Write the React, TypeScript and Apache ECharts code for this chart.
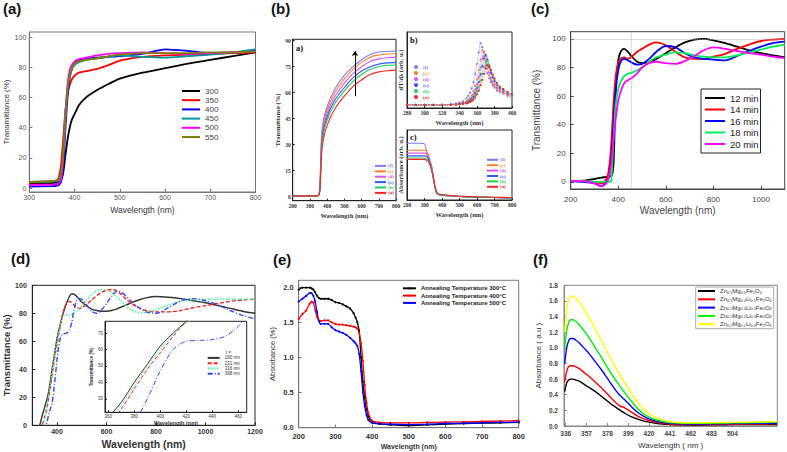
import React, { useEffect, useRef } from "react";
import * as echarts from "echarts";

// ---------- (a) ----------
const A_X = [300, 350, 360, 365, 370, 375, 380, 385, 390, 395, 400, 410, 425, 450, 475, 500, 550, 600, 650, 700, 750, 800];
const A_NAMES = ["300", "350", "400", "450", "500", "550"];
const A_300 = [3, 3.3, 3.5, 4, 5, 10, 22, 33, 41, 46, 49, 55, 60, 65, 69, 72.5, 76.5, 79.5, 82.5, 85, 87.5, 90];
const A_350 = [3.5, 4.5, 5, 7, 15, 33, 52, 63, 69, 72.5, 74.5, 76.5, 77.5, 79, 81.5, 84.5, 87, 88, 88.5, 89, 89.5, 90];
const A_400 = [1, 1.3, 1.5, 2, 4, 14, 40, 62, 74, 80, 83, 85, 86, 86.5, 87, 87.5, 89, 92, 91, 89.5, 90, 91];
const A_450 = [4, 4.3, 4.5, 5, 8, 22, 48, 66, 75, 79, 81.5, 83.5, 85, 86, 87, 88, 87, 86.5, 87.5, 88.5, 90, 92];
const A_500 = [2, 2.3, 2.5, 3, 6, 20, 50, 70, 79, 82, 84, 85.5, 86.5, 88, 89, 89.5, 90, 89.5, 89, 89.5, 90, 90.5];
const A_550 = [4, 4.5, 5, 6, 10, 25, 50, 67, 76, 80, 82.5, 84, 85, 86, 87.5, 88.5, 89.5, 89.5, 89.5, 90, 90, 90.5];
const A_COLORS = ["#000000", "#ff0000", "#0000ff", "#009999", "#ff00ff", "#808000"];
const A_TICKS_X = [300, 400, 500, 600, 700, 800];
const A_TICKS_Y = [0, 20, 40, 60, 80, 100];

// ---------- (b) ----------
const B_LABELS = ["(f)", "(e)", "(d)", "(c)", "(b)", "(a)"];
const B_COLORS = ["#7b7bff", "#ff7f27", "#e055e0", "#3355ff", "#22cc55", "#ff2222"];
const B1_X = [200, 340, 350, 355, 360, 365, 370, 375, 380, 390, 400, 420, 450, 500, 550, 600, 650, 700, 750, 800];
const B1_F = [0.5, 0.5, 1, 3, 12, 30, 38, 42, 45, 49, 52, 57, 63, 70, 75, 79, 82, 83.5, 83.8, 84];
const B1_E = [0.5, 0.5, 1, 2.5, 10, 27, 36, 40, 43, 47, 50, 55, 61, 68, 73.5, 77.5, 80.5, 81.8, 82.3, 82.5];
const B1_D = [0.5, 0.5, 1, 2, 9, 25, 34, 38, 41, 45, 48, 53, 58.5, 65.5, 71, 75, 78, 79.5, 80.2, 80.5];
const B1_C = [0.5, 0.5, 0.8, 2, 8, 23, 32, 36, 39, 43, 46, 51, 56.5, 63, 68.5, 72.5, 75, 76.5, 77.2, 77.5];
const B1_B = [0.5, 0.5, 0.8, 1.5, 7, 21, 30, 34, 37, 41, 44, 49, 54.5, 61, 66.5, 70.5, 73.5, 75, 75.8, 76];
const B1_A = [0.5, 0.5, 0.8, 1.5, 6, 18, 27, 31, 34, 38, 41, 46, 51.5, 58, 63.5, 67.5, 70.5, 72, 72.7, 73];
const B1_TICKS_X = [200, 300, 400, 500, 600, 700, 800];
const B1_TICKS_Y = [0, 15, 30, 45, 60, 75, 90];
const B1_ARROW = [[562, 58], [562, 84]];

const B2_X = [280, 290, 300, 310, 320, 330, 336, 340, 344, 348, 350, 352, 354, 356, 358, 360, 362, 364, 366, 368, 370, 372, 374, 376, 378, 380, 383, 386, 390, 395, 400];
const B2_F = [.04, .04, .04, .04, .045, .05, .06, .07, .09, .13, .16, .2, .26, .34, .45, .58, .73, .855, .8, .68, .56, .46, .39, .34, .3, .27, .23, .21, .19, .16, .14];
const B2_E = [.04, .04, .04, .04, .04, .045, .05, .06, .07, .09, .11, .13, .17, .22, .29, .38, .5, .63, .76, .74, .63, .52, .43, .37, .32, .29, .25, .22, .2, .17, .15];
const B2_D = [.04, .04, .04, .04, .04, .045, .05, .055, .065, .08, .09, .11, .14, .18, .24, .31, .41, .53, .65, .74, .68, .57, .47, .4, .35, .31, .27, .24, .21, .18, .16];
const B2_C = [.04, .04, .04, .04, .04, .045, .05, .055, .06, .07, .08, .1, .12, .15, .2, .26, .34, .44, .55, .65, .7, .64, .54, .46, .4, .35, .3, .26, .23, .19, .17];
const B2_B = [.04, .04, .04, .04, .04, .04, .045, .05, .055, .065, .075, .085, .1, .13, .17, .22, .28, .36, .45, .54, .6, .62, .57, .49, .42, .37, .31, .27, .24, .2, .17];
const B2_A = [.04, .04, .04, .04, .04, .04, .045, .05, .055, .06, .07, .08, .09, .11, .14, .18, .23, .3, .37, .45, .52, .56, .55, .5, .44, .39, .33, .28, .25, .21, .18];
const B2_TICKS_X = [280, 300, 320, 340, 360, 380, 400];

const B3_X = [200, 280, 300, 310, 320, 330, 340, 350, 360, 370, 380, 400, 450, 500, 600, 700, 800];
const B3_F = [.81, .81, .8, .72, .6, .55, .5, .35, .18, .1, .08, .07, .06, .05, .04, .035, .03];
const B3_E = [.71, .71, .71, .7, .66, .58, .48, .34, .18, .1, .08, .07, .06, .05, .04, .035, .03];
const B3_D = [.67, .67, .67, .66, .63, .56, .46, .33, .18, .1, .08, .07, .06, .05, .04, .035, .03];
const B3_C = [.63, .63, .63, .62, .6, .54, .45, .32, .18, .1, .08, .07, .06, .05, .04, .035, .03];
const B3_B = [.6, .6, .6, .59, .57, .52, .44, .32, .18, .1, .08, .07, .06, .05, .04, .035, .03];
const B3_A = [.58, .58, .58, .57, .55, .51, .43, .32, .19, .11, .09, .075, .065, .055, .045, .04, .035];

// ---------- (c) ----------
const C_X = [200, 250, 300, 330, 350, 360, 370, 380, 390, 400, 410, 425, 440, 460, 480, 500, 530, 560, 600, 640, 680, 720, 760, 800, 850, 900, 950, 1000, 1050, 1100];
const C_NAMES = ["12 min", "14 min", "16 min", "18 min", "20 min"];
const C_12 = [0.5, 0.8, 2, 3, 3.5, 4, 4, 12, 68, 85, 91, 93, 91, 87, 84, 83, 83.5, 86, 90, 94, 97.5, 99.5, 100, 99, 97, 94.5, 92, 90, 88.5, 87];
const C_14 = [0.5, 0.5, 0, -1, 2, 8, 25, 55, 75, 83, 86, 87, 86, 88, 91, 93, 96, 97.5, 95.5, 91, 87, 86, 86, 87.5, 89.5, 93, 96, 98.5, 99.5, 100];
const C_16 = [0.5, 0, -1, -3, 0, 3, 15, 40, 65, 78, 84, 86, 85, 83, 82, 82.5, 86, 91, 95, 94, 90, 87, 86, 85.5, 85, 88, 91.5, 94.5, 97, 98];
const C_18 = [0.5, 0.5, 0, 0, 0, 0, 0.5, 30, 55, 65, 70, 74, 75.5, 76.5, 78, 80, 84, 87, 89, 90.5, 90, 88.5, 87.5, 87, 87, 88.5, 90.5, 92.5, 94.5, 96];
const C_20 = [0.5, 0.5, -1, -3, -1, 3, 12, 30, 45, 57, 63, 69, 71, 73, 76, 80, 83, 84, 83, 82.5, 84.5, 88, 92, 94, 93, 91.5, 90, 89, 87.5, 86.5];
const C_COLORS = ["#000000", "#ff0000", "#0000ff", "#00ee55", "#ff00ff"];
const C_TICKS_X = [200, 400, 600, 800, 1000];
const C_TICKS_Y = [0, 20, 40, 60, 80, 100];
const C_REF_X = 456;
const C_REF_Y = 100;

// ---------- (d) ----------
const D_X = [300, 330, 340, 350, 360, 370, 380, 390, 400, 410, 420, 430, 440, 450, 460, 470, 480, 490, 500, 520, 540, 560, 580, 600, 620, 640, 660, 680, 700, 730, 760, 800, 850, 900, 950, 1000, 1050, 1100, 1150, 1200];
const D_NAMES = ["160 nm", "231 nm", "316 nm", "398 nm"];
const D_160 = [-15, 0, 7, 13, 19, 28, 40, 51, 62, 70, 77, 83, 88, 92, 94, 93.5, 92, 90, 88, 85, 83, 82, 81.5, 81.5, 82, 83, 84.5, 86, 87.5, 89.5, 91, 92, 91.5, 90.5, 89, 87.5, 85.5, 83.5, 81.5, 80];
const D_231 = [-15, -6, 0, 6, 13, 24, 36, 48, 58, 68, 77, 84, 87.5, 88.5, 87.5, 85.5, 84, 83.5, 84, 86.5, 89.5, 92.5, 95, 96.5, 97, 96, 93.5, 90, 87, 84, 82, 81, 81, 82, 84, 85.5, 87, 88.5, 89.5, 90];
const D_316 = [-15, -5, -2, 5, 15, 26, 38, 50, 60, 69, 76, 79, 79, 78.5, 79, 80, 81.5, 83, 85, 89.5, 93.5, 96, 97, 96.5, 95, 92, 88.5, 85, 82.5, 80.5, 80.5, 82.5, 86, 88.5, 89.5, 90, 90, 90, 90, 90];
const D_398 = [-15, -10, -6, -3, 3, 10, 16, 30, 47, 60, 65, 65.5, 66, 68, 74, 84, 89, 90.5, 90, 86, 81.5, 80, 82.5, 87, 92, 95.5, 95, 92, 88.5, 84, 81, 80, 84, 89, 90.5, 89, 86, 82, 78.5, 76];
const D_COLORS = ["#333333", "#ff2020", "#33ff88", "#3344ff"];
const D_TICKS_X = [400, 600, 800, 1000, 1200];
const D_TICKS_Y = [0, 20, 40, 60, 80, 100];
const DI_TICKS_X = [360, 380, 400, 420, 440, 460];
const DI_TICKS_Y = [30, 40, 50, 60, 70];

// ---------- (e) ----------
const E_X = [200, 210, 220, 230, 235, 240, 245, 250, 255, 260, 270, 280, 290, 300, 310, 320, 330, 340, 350, 355, 360, 365, 370, 375, 380, 385, 390, 400, 420, 450, 500, 550, 600, 650, 700, 750, 800];
const E_NAMES = ["Annealing Temperature 300°C", "Annealing Temperature 400°C", "Annealing Temperature 500°C"];
const E_300 = [1.97, 2.0, 2.0, 2.0, 1.99, 1.97, 1.93, 1.88, 1.85, 1.84, 1.84, 1.84, 1.82, 1.79, 1.78, 1.76, 1.73, 1.7, 1.63, 1.57, 1.5, 1.38, 1.0, 0.65, 0.42, 0.25, 0.15, 0.07, 0.045, 0.03, 0.02, 0.03, 0.04, 0.05, 0.055, 0.06, 0.065];
const E_400 = [1.55, 1.62, 1.67, 1.77, 1.8, 1.78, 1.68, 1.58, 1.53, 1.52, 1.53, 1.53, 1.5, 1.48, 1.47, 1.47, 1.46, 1.45, 1.44, 1.43, 1.41, 1.35, 1.2, 0.95, 0.6, 0.35, 0.2, 0.09, 0.065, 0.06, 0.06, 0.065, 0.07, 0.075, 0.08, 0.085, 0.09];
const E_500 = [1.8, 1.84, 1.88, 1.92, 1.92, 1.88, 1.8, 1.65, 1.52, 1.48, 1.48, 1.48, 1.43, 1.39, 1.37, 1.35, 1.32, 1.28, 1.23, 1.2, 1.16, 1.05, 0.8, 0.5, 0.3, 0.17, 0.1, 0.06, 0.045, 0.04, 0.035, 0.04, 0.05, 0.055, 0.06, 0.065, 0.07];
const E_COLORS = ["#000000", "#ff0000", "#0000ff"];
const E_TICKS_X = [200, 300, 400, 500, 600, 700, 800];
const E_TICKS_Y = [0, 0.5, 1.0, 1.5, 2.0];

// ---------- (f) ----------
const F_X = [335, 337, 339, 341, 343, 346, 350, 355, 360, 366, 372, 378, 384, 390, 396, 402, 408, 414, 420, 427, 434, 441, 450, 460, 475, 490, 505, 520, 535, 549];
const F_NAMES = ["Zn0.5Mg0.5Fe2O4", "Zn0.5Mg0.4Li0.1Fe2O4", "Zn0.5Mg0.3Li0.2Fe2O4", "Zn0.5Mg0.2Li0.3Fe2O4", "Zn0.5Mg0.1Li0.4Fe2O4"];
const F_1 = [.44, .55, .59, .6, .6, .59, .57, .53, .49, .44, .38, .32, .26, .21, .16, .12, .09, .065, .05, .035, .025, .02, .015, .013, .013, .015, .017, .018, .02, .02];
const F_2 = [.56, .7, .76, .77, .77, .76, .73, .68, .63, .56, .49, .41, .33, .26, .23, .18, .13, .095, .07, .05, .035, .025, .02, .018, .018, .02, .022, .024, .026, .028];
const F_3 = [.8, 1.0, 1.09, 1.12, 1.12, 1.1, 1.06, .99, .92, .82, .72, .61, .5, .4, .33, .25, .18, .13, .09, .063, .045, .034, .028, .026, .026, .028, .03, .032, .034, .036];
const F_4 = [1.0, 1.22, 1.32, 1.36, 1.36, 1.34, 1.29, 1.21, 1.12, 1.0, .88, .75, .63, .52, .42, .32, .23, .16, .115, .08, .058, .044, .037, .035, .035, .037, .04, .042, .045, .048];
const F_5 = [1.2, 1.48, 1.61, 1.66, 1.66, 1.64, 1.58, 1.49, 1.38, 1.24, 1.09, .94, .8, .67, .54, .42, .31, .22, .16, .11, .075, .055, .045, .042, .042, .044, .047, .05, .053, .056];
const F_COLORS = ["#000000", "#ff0000", "#0000ff", "#00ee00", "#ffff00"];
const F_TICKS_X = [336, 357, 378, 399, 420, 441, 462, 483, 504];
const F_TICKS_Y = [0, 0.2, 0.4, 0.6, 0.8, 1.0, 1.2, 1.4, 1.6, 1.8];

const SANS = "Liberation Sans";
const SERIF = "Liberation Serif";

function pairs(xs: number[], ys: number[]) {
  return xs.map((x, i) => [x, ys[i]]);
}

function axis(o: any) {
  const color = o.color || "#333";
  return {
    type: "value",
    gridIndex: o.grid,
    min: o.min,
    max: o.max,
    name: o.name || "",
    nameLocation: "middle",
    nameGap: o.nameGap || 10,
    nameTextStyle: {
      fontSize: o.nameSize || 8,
      fontFamily: o.font || SANS,
      fontWeight: o.nameWeight || "normal",
      color: o.nameColor || "#333",
    },
    z: o.z || 0,
    axisLine: { show: true, onZero: false, lineStyle: { color, width: o.lineWidth || 1 } },
    axisTick: {
      show: o.ticks !== undefined,
      inside: true,
      length: o.tickLen || 3,
      customValues: o.ticks || [],
      lineStyle: { color },
    },
    axisLabel: {
      show: o.ticks !== undefined && !o.hideLabels,
      customValues: o.ticks || [],
      fontSize: o.labelSize || 7,
      fontFamily: o.font || SANS,
      fontWeight: o.labelWeight || "normal",
      color: o.labelColor || "#333",
      margin: o.margin ?? 3,
      formatter: o.fmt || ((v: number) => String(v)),
      hideOverlap: false,
    },
    splitLine: { show: false },
  };
}

function lineSeries(name: string, xs: number[], ys: number[], gi: number, color: string, extra: any = {}) {
  return {
    type: "line",
    name,
    xAxisIndex: gi,
    yAxisIndex: gi,
    data: pairs(xs, ys),
    symbol: "none",
    smooth: 0.3,
    clip: true,
    lineStyle: { color, width: 1.8 },
    itemStyle: { color },
    z: 2,
    ...extra,
  };
}

function subFormula(name: string) {
  const parts = name.match(/[A-Z][a-z]?|[0-9.]+/g) || [];
  return parts.map((p) => (/^[0-9.]+$/.test(p) ? `{s|${p}}` : `{n|${p}}`)).join("");
}

export default function App() {
  const ref = useRef<HTMLDivElement>(null);

  useEffect(() => {
    if (!ref.current) return;
    const chart = echarts.init(ref.current, undefined, { renderer: "svg" });

    const grids = [
      { left: 29.3, top: 32, width: 226.2, height: 160, show: true, borderColor: "#777", borderWidth: 1 },
      { left: 292.7, top: 39.3, width: 103.3, height: 161.4, show: true, borderColor: "#222", borderWidth: 1 },
      { left: 407, top: 32, width: 105, height: 76, show: true, borderColor: "#222", borderWidth: 1 },
      { left: 407, top: 130, width: 105, height: 70, show: true, borderColor: "#222", borderWidth: 1 },
      { left: 570.7, top: 31.7, width: 214, height: 157.3, show: true, borderColor: "#444", borderWidth: 1 },
      { left: 32.3, top: 285.3, width: 222.7, height: 140, show: true, borderColor: "#222", borderWidth: 1 },
      { left: 105, top: 321.3, width: 141.7, height: 91, show: true, borderColor: "#222", borderWidth: 1, backgroundColor: "#fff", z: 10 },
      { left: 298.7, top: 280.3, width: 220, height: 147.4, show: true, borderColor: "#777", borderWidth: 1 },
      { left: 564, top: 285.3, width: 213.3, height: 140.7, show: true, borderColor: "#888", borderWidth: 1 },
    ];

    const xAxes = [
      axis({ grid: 0, min: 300, max: 800, ticks: A_TICKS_X, name: "Wavelength (nm)", nameGap: 13, nameSize: 8.5, labelSize: 7, labelColor: "#555", color: "#777", margin: 2 }),
      axis({ grid: 1, min: 200, max: 800, ticks: B1_TICKS_X, name: "Wavelength (nm)", nameGap: 11, nameSize: 6.5, nameWeight: "bold", font: SERIF, labelSize: 5.5, labelWeight: "bold", margin: 2, color: "#222", tickLen: 2 }),
      axis({ grid: 2, min: 280, max: 400, ticks: B2_TICKS_X, name: "Wavelength (nm)", nameGap: 11, nameSize: 6.5, nameWeight: "bold", font: SERIF, labelSize: 5.5, labelWeight: "bold", margin: 2, color: "#222", tickLen: 2 }),
      axis({ grid: 3, min: 200, max: 800, ticks: B1_TICKS_X, name: "Wavelength (nm)", nameGap: 11, nameSize: 6.5, nameWeight: "bold", font: SERIF, labelSize: 5.5, labelWeight: "bold", margin: 2, color: "#222", tickLen: 2 }),
      axis({ grid: 4, min: 200, max: 1100, ticks: C_TICKS_X, name: "Wavelength (nm)", nameGap: 16, nameSize: 10, labelSize: 8, margin: 6, color: "#444", nameColor: "#444", labelColor: "#444" }),
      axis({ grid: 5, min: 300, max: 1200, ticks: D_TICKS_X, name: "Wavelength (nm)", nameGap: 13, nameSize: 10.5, nameWeight: "bold", labelSize: 7, labelWeight: "bold", margin: 3, color: "#222" }),
      axis({ grid: 6, min: 357.5, max: 466.5, ticks: DI_TICKS_X, name: "Wavelength (nm)", nameGap: 4, nameSize: 5.5, nameWeight: "bold", labelSize: 4.5, margin: 1.5, color: "#222", tickLen: 2, z: 12 }),
      axis({ grid: 7, min: 200, max: 800, ticks: E_TICKS_X, name: "Wavelength (nm)", nameGap: 15, nameSize: 7, nameWeight: "bold", labelSize: 7.5, labelWeight: "bold", margin: 5, color: "#777" }),
      axis({ grid: 8, min: 334.3, max: 549.3, ticks: F_TICKS_X, name: "Wavelength ( nm )", nameGap: 15, nameSize: 8, labelSize: 6.5, labelWeight: "bold", labelColor: "#444", margin: 3.5, color: "#888" }),
    ];

    const yAxes = [
      axis({ grid: 0, min: -2.65, max: 103.5, ticks: A_TICKS_Y, name: "Transmittance (%)", nameGap: 19, nameSize: 8, labelSize: 7, labelColor: "#555", color: "#777", margin: 3 }),
      axis({ grid: 1, min: -2.3, max: 90.8, ticks: B1_TICKS_Y, name: "Transmittance (%)", nameGap: 12, nameSize: 6.5, nameWeight: "bold", font: SERIF, labelSize: 5.5, labelWeight: "bold", margin: 2, color: "#222", tickLen: 2 }),
      axis({ grid: 2, min: 0, max: 1, name: "dT/dλ (arb. u.)", nameGap: 3, nameSize: 6.5, nameWeight: "bold", font: SERIF, color: "#222" }),
      axis({ grid: 3, min: 0, max: 1, name: "Absorbance (arb. u.)", nameGap: 3, nameSize: 6.5, nameWeight: "bold", font: SERIF, color: "#222" }),
      axis({ grid: 4, min: -5, max: 105, ticks: C_TICKS_Y, name: "Transmittance (%)", nameGap: 29, nameSize: 10, labelSize: 8, margin: 5, color: "#444", nameColor: "#444", labelColor: "#444" }),
      axis({ grid: 5, min: 0, max: 100, ticks: D_TICKS_Y, name: "Transmittance (%)", nameGap: 16, nameSize: 9.5, nameWeight: "bold", labelSize: 7, labelWeight: "bold", margin: 5.5, color: "#222" }),
      axis({ grid: 6, min: 21.9, max: 77.1, ticks: DI_TICKS_Y, name: "Transmittance (%)", nameGap: 10, nameSize: 4.5, nameWeight: "bold", labelSize: 4.5, margin: 2, color: "#222", tickLen: 2, z: 12 }),
      axis({ grid: 7, min: -0.01, max: 2.105, ticks: E_TICKS_Y, name: "Absorbance (%)", nameGap: 22, nameSize: 7.5, labelSize: 7.5, labelWeight: "bold", margin: 5, color: "#777", fmt: (v: number) => v.toFixed(1) }),
      axis({ grid: 8, min: 0, max: 1.8, ticks: F_TICKS_Y, name: "Absorbance ( a.u )", nameGap: 22, nameSize: 8, labelSize: 6.5, labelWeight: "bold", labelColor: "#444", margin: 6, color: "#888", fmt: (v: number) => v.toFixed(1) }),
    ];

    const series: any[] = [];
    [A_300, A_350, A_400, A_450, A_500, A_550].forEach((ys, i) =>
      series.push(lineSeries(A_NAMES[i], A_X, ys, 0, A_COLORS[i], { smooth: 0.2, lineStyle: { color: A_COLORS[i], width: 1.8 } }))
    );
    [B1_F, B1_E, B1_D, B1_C, B1_B, B1_A].forEach((ys, i) => {
      const extra: any = { smooth: 0.25, lineStyle: { color: B_COLORS[i], width: 1.1 } };
      if (i === 0) {
        extra.markLine = {
          silent: true,
          symbol: ["none", "arrow"],
          symbolSize: 5,
          label: { show: false },
          lineStyle: { color: "#000", width: 1, type: "solid" },
          data: [[{ coord: B1_ARROW[0] }, { coord: B1_ARROW[1] }]],
        };
      }
      series.push(lineSeries("main:" + B_LABELS[i], B1_X, ys, 1, B_COLORS[i], extra));
    });
    [B2_F, B2_E, B2_D, B2_C, B2_B, B2_A].forEach((ys, i) =>
      series.push(
        lineSeries("deriv:" + B_LABELS[i], B2_X, ys, 2, B_COLORS[i], {
          smooth: 0.3,
          symbol: "circle",
          symbolSize: 2.2,
          showSymbol: true,
          lineStyle: { color: B_COLORS[i], width: 0.8, type: "dotted" },
        })
      )
    );
    [B3_F, B3_E, B3_D, B3_C, B3_B, B3_A].forEach((ys, i) =>
      series.push(lineSeries("abs:" + B_LABELS[i], B3_X, ys, 3, B_COLORS[i], { smooth: 0.2, lineStyle: { color: B_COLORS[i], width: 1.1 } }))
    );
    [C_12, C_14, C_16, C_18, C_20].forEach((ys, i) => {
      const extra: any = { smooth: 0.3, lineStyle: { color: C_COLORS[i], width: 1.8 } };
      if (i === 0) {
        extra.markLine = {
          silent: true,
          symbol: "none",
          label: { show: false },
          lineStyle: { color: "#aaa", width: 0.8, type: "dotted" },
          data: [{ xAxis: C_REF_X }, { yAxis: C_REF_Y }],
        };
      }
      series.push(lineSeries(C_NAMES[i], C_X, ys, 4, C_COLORS[i], extra));
    });
    const dStyles: any[] = ["solid", [4, 2], [1.5, 1.5], [5, 2, 1, 2]];
    [D_160, D_231, D_316, D_398].forEach((ys, i) => {
      series.push(lineSeries(D_NAMES[i], D_X, ys, 5, D_COLORS[i], { smooth: 0.3, lineStyle: { color: D_COLORS[i], width: 1.4, type: dStyles[i] } }));
    });
    [D_160, D_231, D_316, D_398].forEach((ys, i) => {
      series.push(lineSeries(D_NAMES[i], D_X, ys, 6, D_COLORS[i], { smooth: 0.3, z: 11, lineStyle: { color: D_COLORS[i], width: 1, type: dStyles[i] } }));
    });
    [E_300, E_400, E_500].forEach((ys, i) =>
      series.push(
        lineSeries(E_NAMES[i], E_X, ys, 7, E_COLORS[i], {
          smooth: 0.2,
          symbol: "circle",
          symbolSize: 2,
          showSymbol: true,
          lineStyle: { color: E_COLORS[i], width: 1.3 },
        })
      )
    );
    [F_1, F_2, F_3, F_4, F_5].forEach((ys, i) =>
      series.push(lineSeries(F_NAMES[i], F_X, ys, 8, F_COLORS[i], { smooth: 0.3, lineStyle: { color: F_COLORS[i], width: 1.4 } }))
    );

    const hideSym = { opacity: 0 };

    const bLegend = (prefix: string, left: number, top: number, extra: any = {}) => ({
      orient: "vertical",
      left,
      top,
      padding: 0,
      itemWidth: 11,
      itemHeight: 5,
      itemGap: 0.4,
      itemStyle: hideSym,
      formatter: (n: string) => n.split(":")[1],
      textStyle: { fontSize: 5, lineHeight: 5, fontFamily: SERIF, fontWeight: "bold", padding: [0, 0, 0, -3] },
      data: B_LABELS.map((l, i) => ({ name: prefix + ":" + l, textStyle: { color: B_COLORS[i] } })),
      ...extra,
    });

    const legends = [
      {
        orient: "vertical",
        left: 181,
        top: 86.5,
        padding: 0,
        itemWidth: 18,
        itemHeight: 9,
        itemGap: 0.2,
        itemStyle: hideSym,
        textStyle: { fontSize: 8, lineHeight: 9, color: "#444", fontFamily: SANS },
        data: A_NAMES,
      },
      bLegend("main", 374, 163.4),
      bLegend("deriv", 414, 64.5, { itemWidth: 4, itemHeight: 4, itemGap: 1, icon: "circle", itemStyle: {}, textStyle: { fontSize: 5, lineHeight: 5, fontFamily: SERIF, fontWeight: "bold" } }),
      bLegend("abs", 486, 157.3),
      {
        orient: "vertical",
        left: 701,
        top: 89,
        padding: [4, 2, 4, 3],
        backgroundColor: "#fff",
        borderColor: "#222",
        borderWidth: 1,
        itemWidth: 20,
        itemHeight: 10,
        itemGap: 1.5,
        itemStyle: hideSym,
        textStyle: { fontSize: 9.5, lineHeight: 10, color: "#222", fontFamily: SANS },
        data: C_NAMES,
      },
      {
        orient: "vertical",
        left: 206.7,
        top: 355.4,
        padding: 0,
        itemWidth: 12,
        itemHeight: 5,
        itemGap: 0.3,
        z: 20,
        itemStyle: hideSym,
        textStyle: { fontSize: 4.5, lineHeight: 5, color: "#333", fontFamily: SANS },
        data: D_NAMES,
      },
      {
        orient: "vertical",
        left: 402,
        top: 285.3,
        padding: 0,
        itemWidth: 13,
        itemHeight: 2.5,
        itemGap: 1.3,
        textStyle: { fontSize: 6, lineHeight: 6, color: "#222", fontWeight: "bold", fontFamily: SANS },
        data: E_NAMES,
      },
      {
        orient: "vertical",
        left: 695.7,
        top: 287,
        padding: [0.5, 2, 1, 1.3],
        backgroundColor: "#fff",
        borderColor: "#aaa",
        borderWidth: 1,
        itemWidth: 17,
        itemHeight: 7,
        itemGap: 1.3,
        itemStyle: hideSym,
        formatter: (n: string) => subFormula(n),
        textStyle: {
          fontSize: 6,
          lineHeight: 7,
          color: "#333",
          fontFamily: SANS,
          rich: {
            n: { fontSize: 6, color: "#333", fontFamily: SANS, verticalAlign: "middle" },
            s: { fontSize: 3.8, color: "#333", fontFamily: SANS, verticalAlign: "bottom" },
          },
        },
        data: F_NAMES,
      },
    ];

    const panelLabel = (text: string, x: number, y: number) => ({
      type: "text",
      x,
      y,
      style: { text, fontSize: 15, fontWeight: "bold", fontFamily: SANS, fill: "#111" },
    });
    const subLabel = (text: string, x: number, y: number) => ({
      type: "text",
      x,
      y,
      z: 30,
      style: { text, fontSize: 8.5, fontWeight: "bold", fontFamily: SERIF, fill: "#111" },
    });

    const graphic = [
      panelLabel("(a)", 3, 1),
      panelLabel("(b)", 271, 1),
      panelLabel("(c)", 531, 1),
      panelLabel("(d)", 11, 251),
      panelLabel("(e)", 273, 252),
      panelLabel("(f)", 533, 252),
      subLabel("a)", 296, 43),
      subLabel("b)", 410, 35),
      subLabel("c)", 410, 132),
      {
        type: "text",
        x: 226,
        y: 350,
        z: 30,
        style: { text: "t =", fontSize: 4.5, fontFamily: SANS, fill: "#333" },
      },
    ];

    chart.setOption({
      animation: false,
      backgroundColor: "#ffffff",
      textStyle: { fontFamily: SANS },
      grid: grids,
      xAxis: xAxes,
      yAxis: yAxes,
      legend: legends,
      series,
      graphic,
    });

    return () => chart.dispose();
  }, []);

  return <div ref={ref} style={{ position: "absolute", left: 0, top: 0, width: 787, height: 452 }} />;
}
